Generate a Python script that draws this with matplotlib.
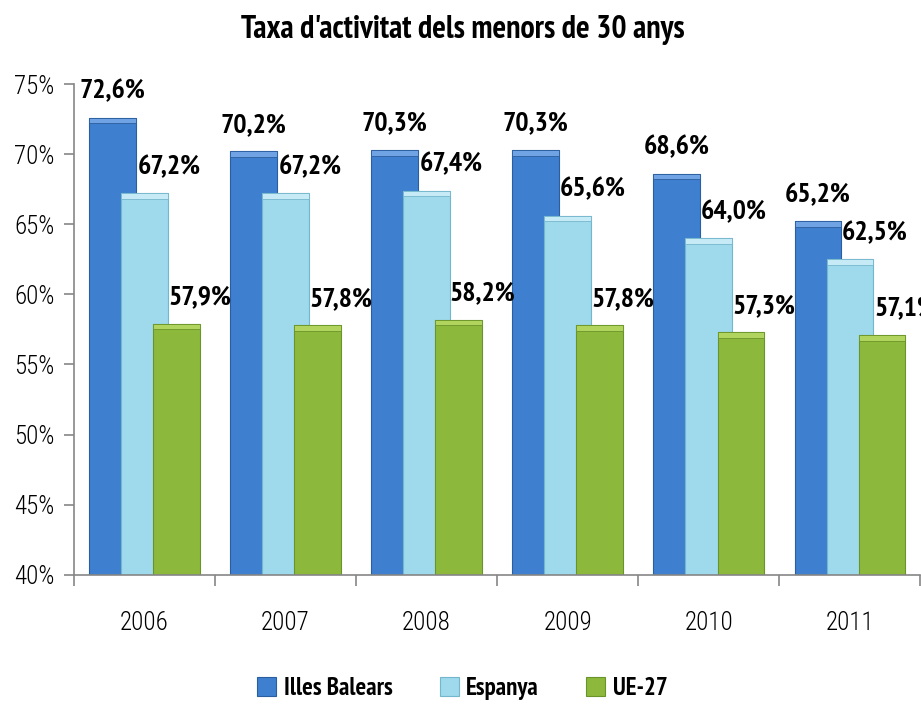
import numpy as np
import matplotlib.pyplot as plt
from matplotlib.ticker import FixedLocator, FuncFormatter

years = ['2006', '2007', '2008', '2009', '2010', '2011']
illes_balears = [72.6, 70.2, 70.3, 70.3, 68.6, 65.2]
espanya = [67.2, 67.2, 67.4, 65.6, 64.0, 62.5]
ue27 = [57.9, 57.8, 58.2, 57.8, 57.3, 57.1]
series_names = ['Illes Balears', 'Espanya', 'UE-27']

label_font = ['PT Sans Narrow', 'Roboto Condensed', 'Fira Sans Condensed', 'DejaVu Sans']
tick_font = ['Roboto Condensed', 'PT Sans Narrow', 'DejaVu Sans']
colors = ['#3F7FD0', '#9ED9EC', '#8CB83C']
edges = ['#2B5E9E', '#74B6CC', '#6A9429']
caps = ['#6FA3E3', '#C6EBF6', '#B0D45E']

fig = plt.figure(figsize=(9.21, 7.15), dpi=100)
ax = fig.add_axes([0.0803, 0.196, 0.919, 0.6865])

x = np.arange(len(years))
width = 0.33
offsets = [-0.227, 0.0, 0.227]
label_dx = [0, 18, 17]
handles = []
for vals, off, c, ec, cc, dx in zip([illes_balears, espanya, ue27], offsets,
                                    colors, edges, caps, label_dx):
    vals = np.array(vals)
    b = ax.bar(x + off, vals - 40, width, bottom=40, color=c, edgecolor=ec,
               linewidth=0.8, zorder=2)
    ax.bar(x + off, 0.4, width, bottom=vals - 0.4, color=cc, edgecolor=ec,
           linewidth=0.6, zorder=2)
    handles.append(b)
    for xi, v in zip(x + off, vals):
        ax.annotate(f'{v:.1f}%'.replace('.', ','), (xi, v), xytext=(dx, 19),
                    textcoords='offset points', ha='center', va='center',
                    fontsize=20, fontweight='bold', family=label_font,
                    annotation_clip=False)

ax.set_xlim(-0.5, 5.5)
ax.set_ylim(40, 75)
ax.set_yticks(np.arange(40, 76, 5))
ax.yaxis.set_major_formatter(FuncFormatter(lambda v, p: f'{v:.0f}%'))
ax.set_xticks(x)
ax.set_xticklabels(years)
ax.xaxis.set_minor_locator(FixedLocator(np.arange(-0.5, 6, 1)))
ax.tick_params(axis='x', which='major', length=0, pad=26, labelsize=18)
ax.tick_params(axis='x', which='minor', length=8, color='#868686', width=1.2)
ax.tick_params(axis='y', length=7, color='#868686', width=1.2, labelsize=18, pad=7)
for lab in ax.get_xticklabels() + ax.get_yticklabels():
    lab.set_family(tick_font)
    lab.set_fontweight('light')
for s in ['top', 'right']:
    ax.spines[s].set_visible(False)
for s in ['left', 'bottom']:
    ax.spines[s].set_color('#868686')
    ax.spines[s].set_linewidth(1.2)

fig.text(0.502, 0.958, "Taxa d'activitat dels menors de 30 anys", ha='center',
         va='center', fontsize=23, fontweight='bold', family=label_font)

leg = fig.legend(handles, series_names, loc='center', bbox_to_anchor=(0.502, 0.037),
                 ncol=3, frameon=False, handlelength=0.75, handleheight=0.8,
                 columnspacing=1.9, handletextpad=0.3,
                 prop={'family': label_font, 'weight': 'bold', 'size': 18})

fig.savefig('out.png', dpi=100)
